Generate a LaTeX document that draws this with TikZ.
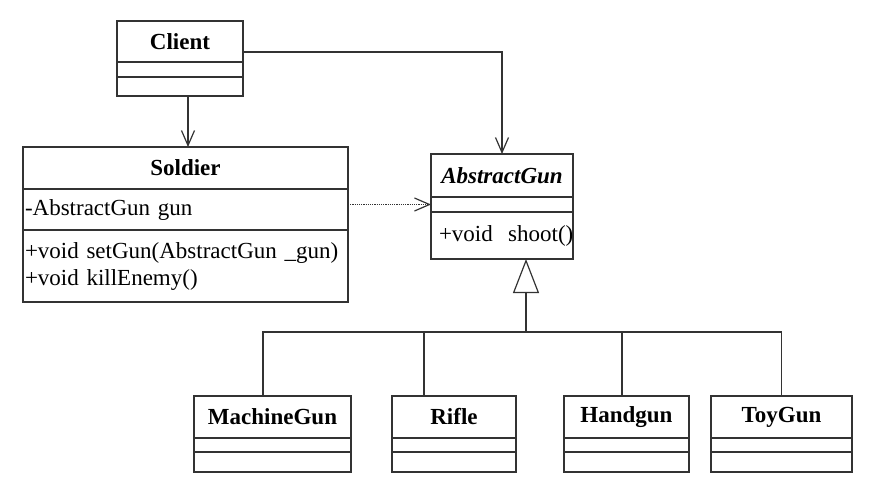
\documentclass[tikz,border=0pt]{standalone}
\usepackage{fontspec}
\setmainfont{Liberation Serif}
\usetikzlibrary{arrows.meta,positioning,calc}
\definecolor{UMLLine}{HTML}{333333}
\newcommand{\umlfont}{\fontsize{23}{27}\selectfont}

\begin{document}
\begin{tikzpicture}[
    x=1pt, y=1pt,
    cls/.style={
      draw=UMLLine,
      line width=1.2pt,
      minimum width=#1,
      inner sep=0pt,
      outer sep=0pt,
      font=\umlfont
    },
    clsname/.style={cls=#1, font=\umlfont\bfseries},
    clstext/.style={cls=#1, inner xsep=2pt, align=left},
    assoc/.style={
      -{Straight Barb[length=15pt,width=13pt]},
      line width=1.2pt,
      color=UMLLine
    },
    dep/.style={assoc, densely dotted},
    gen/.style={
      -{Triangle[open,length=34pt,width=26pt,line width=1.2pt]},
      line width=1.8pt,
      color=UMLLine
    },
    link/.style={line width=1.2pt, color=UMLLine}
  ]

  \useasboundingbox (0,0) rectangle (871,-496);

  % Client
  \node[clsname=126pt, minimum height=41pt] (client) at (180,-41.5) {Client};
  \node[cls=126pt, minimum height=15pt, below=0pt of client]  (clientA) {};
  \node[cls=126pt, minimum height=19pt, below=0pt of clientA] (clientO) {};

  % Soldier
  \node[clsname=325pt, minimum height=42pt] (soldier) at (185.5,-168) {Soldier};
  \node[clstext=325pt, text width=321pt, minimum height=41pt, below=0pt of soldier]
    (soldierA) {-AbstractGun gun};
  \node[clstext=325pt, text width=321pt, minimum height=72pt, below=0pt of soldierA]
    (soldierO) {+void setGun(AbstractGun \_gun)\\+void killEnemy()};

  % AbstractGun
  \node[clsname=142pt, font=\umlfont\bfseries\itshape, minimum height=43pt]
    (agun) at (502,-175.5) {AbstractGun};
  \node[cls=142pt, minimum height=15pt, below=0pt of agun] (agunA) {};
  \node[clstext=142pt, inner xsep=8pt, text width=126pt, minimum height=47pt, below=0pt of agunA]
    (agunO) {+void~~shoot()};

  % Concrete guns
  \node[clsname=157pt, minimum height=42pt] (mgun)  at (272.5,-417) {MachineGun};
  \node[cls=157pt, minimum height=14pt, below=0pt of mgun]   (mgunA)  {};
  \node[cls=157pt, minimum height=20pt, below=0pt of mgunA]  (mgunO)  {};

  \node[clsname=124pt, minimum height=42pt] (rifle) at (454,-417) {Rifle};
  \node[cls=124pt, minimum height=14pt, below=0pt of rifle]  (rifleA) {};
  \node[cls=124pt, minimum height=20pt, below=0pt of rifleA] (rifleO) {};

  \node[clsname=125pt, minimum height=42pt] (hgun)  at (626.5,-417) {Handgun};
  \node[cls=125pt, minimum height=14pt, below=0pt of hgun]   (hgunA)  {};
  \node[cls=125pt, minimum height=20pt, below=0pt of hgunA]  (hgunO)  {};

  \node[clsname=141pt, minimum height=42pt] (tgun)  at (781.5,-417) {ToyGun};
  \node[cls=141pt, minimum height=14pt, below=0pt of tgun]   (tgunA)  {};
  \node[cls=141pt, minimum height=20pt, below=0pt of tgunA]  (tgunO)  {};

  % Associations
  \coordinate (c2s) at ($(clientO.south)+(8,0)$);
  \draw[assoc] (c2s) -- (c2s |- soldier.north);
  \coordinate (c2g) at ($(client.east)+(0,-10.5)$);
  \draw[assoc] (c2g) -| (agun.north);
  \draw[dep] (agunA.west -| soldierA.east) -- (agunA.west);

  % Generalization
  \coordinate (tip) at ($(agunO.south)+(24,0)$);
  \coordinate (bar) at ($(tip)+(0,-73)$);
  \draw[gen] (bar) -- (tip);
  \draw[link] ($(mgun.north)+(-9.5,0)$) |- (bar);
  \draw[link] ($(rifle.north)+(-30,0)$) |- (bar);
  \draw[link] ($(hgun.north)+(-4.5,0)$) |- (bar);
  \draw[link] (tgun.north) |- (bar);

\end{tikzpicture}
\end{document}
